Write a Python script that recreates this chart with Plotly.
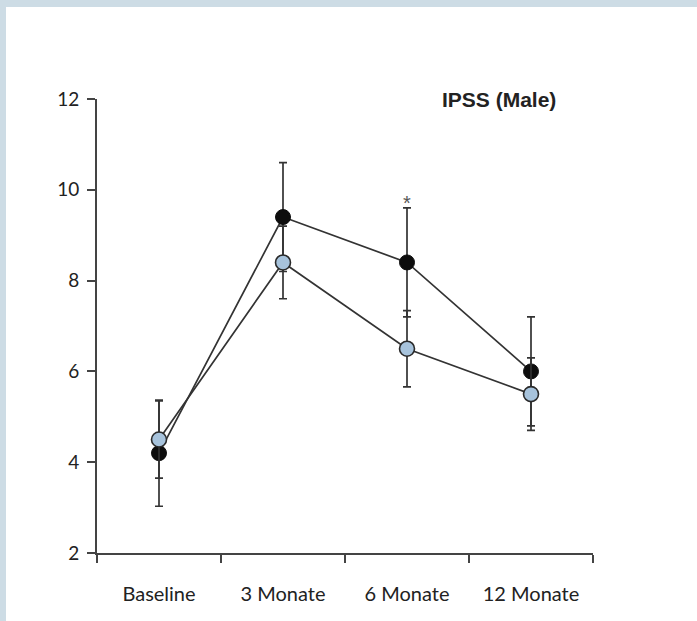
import plotly.graph_objects as go

# ---- data ----
categories = ["Baseline", "3 Monate", "6 Monate", "12 Monate"]
x_pos = [0, 1, 2, 3]
group_black = [4.2, 9.4, 8.4, 6.0]
group_black_err = [1.17, 1.2, 1.2, 1.2]
group_blue = [4.5, 8.4, 6.5, 5.5]
group_blue_err = [0.85, 0.8, 0.84, 0.8]
y_ticks = [2, 4, 6, 8, 10, 12]
boundary_ticks = [-0.5, 0.5, 1.5, 2.5, 3.5]
title_text = "IPSS (Male)"
sig_marker = "*"

LINE = "#333333"
AXIS = "#444444"
TXT = "#222222"
BORDER = "#cddce5"

fig = go.Figure()

fig.add_trace(go.Scatter(
    x=x_pos, y=group_black, mode="lines+markers",
    line=dict(color=LINE, width=1.7),
    marker=dict(size=15, color="#0d0d0d", line=dict(color="#0d0d0d", width=1)),
    error_y=dict(type="data", array=group_black_err, visible=True,
                 color=LINE, thickness=1.7, width=4),
    showlegend=False, hoverinfo="skip",
))
fig.add_trace(go.Scatter(
    x=x_pos, y=group_blue, mode="lines+markers",
    line=dict(color=LINE, width=1.7),
    marker=dict(size=15, color="#a7c3dc", line=dict(color="#2a2a2a", width=1.6)),
    error_y=dict(type="data", array=group_blue_err, visible=True,
                 color=LINE, thickness=1.7, width=4),
    showlegend=False, hoverinfo="skip",
))

W, H = 697, 621
ml, mr, mt, mb = 97, 104, 99, 68
pw, ph = W - ml - mr, H - mt - mb

def px_x(p):
    return (p - ml) / pw

def px_y(p):
    return (H - mb - p) / ph

shapes = [
    # white inner panel on a blue-grey paper
    dict(type="rect", xref="paper", yref="paper", layer="below",
         x0=px_x(6), x1=px_x(W + 2), y0=px_y(H + 2), y1=px_y(7),
         fillcolor="white", line=dict(width=0)),
]

fig.update_layout(
    width=W, height=H,
    margin=dict(l=ml, r=mr, t=mt, b=mb, pad=0),
    paper_bgcolor=BORDER, plot_bgcolor="rgba(0,0,0,0)",
    shapes=shapes,
    hovermode=False,
    xaxis=dict(
        range=[-0.5, 3.5], showgrid=False, zeroline=False,
        showline=True, linecolor=AXIS, linewidth=2,
        tickmode="array", tickvals=x_pos, ticktext=categories, ticks="",
        tickfont=dict(family="Lato", size=20, color=TXT),
        ticklabelstandoff=22,
        minor=dict(tickmode="array", tickvals=boundary_ticks, ticks="outside",
                   ticklen=8, tickwidth=2, tickcolor=AXIS, showgrid=False),
    ),
    yaxis=dict(
        range=[2, 12], showgrid=False, zeroline=False,
        showline=True, linecolor=AXIS, linewidth=2,
        tickmode="array", tickvals=y_ticks, ticks="outside",
        ticklen=8, tickwidth=1.5, tickcolor=AXIS,
        tickfont=dict(family="Lato", size=19, color=TXT),
        ticklabelstandoff=4,
    ),
    annotations=[
        dict(x=2.74, y=11.98, xref="x", yref="y", text="<b>" + title_text + "</b>",
             showarrow=False, xanchor="center", yanchor="middle",
             font=dict(family="Liberation Sans", size=21, color=TXT)),
        dict(x=2, y=9.72, xref="x", yref="y", text=sig_marker,
             showarrow=False, xanchor="center", yanchor="middle",
             font=dict(family="Liberation Sans", size=20, color="#555555")),
    ],
)

fig.write_html("out.html",
               config={"displayModeBar": False},
               post_script="document.body.style.margin='0';document.body.style.padding='0';")
